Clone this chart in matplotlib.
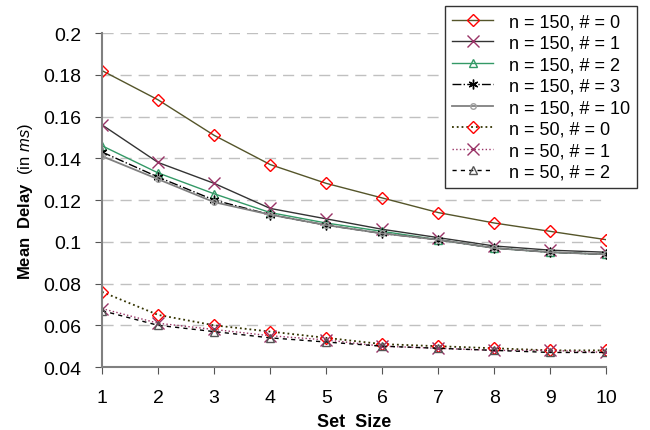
import matplotlib
matplotlib.use("Agg")
import matplotlib.pyplot as plt

plt.rcParams['font.family'] = ['Liberation Sans', 'DejaVu Sans']
plt.rcParams['mathtext.fontset'] = 'custom'
plt.rcParams['mathtext.rm'] = 'Liberation Sans'
plt.rcParams['mathtext.it'] = 'Liberation Sans:italic'
plt.rcParams['mathtext.bf'] = 'Liberation Sans:bold'

# data
set_size = [1, 2, 3, 4, 5, 6, 7, 8, 9, 10]
n150_h0 = [0.182, 0.168, 0.151, 0.137, 0.128, 0.121, 0.114, 0.109, 0.105, 0.101]
n150_h1 = [0.156, 0.138, 0.128, 0.116, 0.111, 0.106, 0.102, 0.098, 0.096, 0.095]
n150_h2 = [0.146, 0.133, 0.123, 0.114, 0.109, 0.105, 0.101, 0.097, 0.095, 0.094]
n150_h3 = [0.143, 0.131, 0.120, 0.113, 0.108, 0.104, 0.101, 0.097, 0.095, 0.094]
n150_h10 = [0.141, 0.130, 0.119, 0.113, 0.108, 0.104, 0.101, 0.097, 0.095, 0.094]
n50_h0 = [0.076, 0.065, 0.060, 0.057, 0.054, 0.051, 0.050, 0.049, 0.048, 0.048]
n50_h1 = [0.068, 0.061, 0.058, 0.055, 0.053, 0.050, 0.049, 0.048, 0.048, 0.047]
n50_h2 = [0.067, 0.060, 0.057, 0.054, 0.052, 0.050, 0.049, 0.048, 0.047, 0.047]
y_ticks = [0.04, 0.06, 0.08, 0.1, 0.12, 0.14, 0.16, 0.18, 0.2]

fig = plt.figure(figsize=(6.5, 4.31), dpi=100)
ax = fig.add_axes([0.157, 0.146, 0.776, 0.775])

red = '#ff0000'
purple = '#993366'

ax.plot(set_size, n150_h0, '-', color='#55552a', lw=1, marker='D', ms=6.5,
        mfc='none', mec=red, mew=1, label='n = 150, # = 0')
ax.plot(set_size, n150_h1, '-', color='#333333', lw=1, marker='x', ms=9,
        mec=purple, mew=1, label='n = 150, # = 1')
ax.plot(set_size, n150_h2, '-', color='#339966', lw=1, marker='^', ms=6,
        mfc='none', mec='#339966', mew=1, label='n = 150, # = 2')
ax.plot(set_size, n150_h3, '-.', color='black', lw=1, marker=(6, 2, 0), ms=7,
        mec='black', mew=1, label='n = 150, # = 3')
ax.plot(set_size, n150_h10, '-', color='#808080', lw=1.3, marker='o', ms=4,
        mfc='none', mec='#a0a0a0', mew=1, label='n = 150, # = 10')
ax.plot(set_size, n50_h0, ':', color='#333300', lw=1.3, marker='D', ms=6.5,
        mfc='none', mec=red, mew=1, label='n = 50, # = 0')
ax.plot(set_size, n50_h1, ':', color=purple, lw=1, marker='x', ms=9,
        mec=purple, mew=1, label='n = 50, # = 1')
ax.plot(set_size, n50_h2, '--', color='black', lw=1, dashes=(3, 3), marker='^', ms=6,
        mfc='none', mec='#555555', mew=1, label='n = 50, # = 2')

ax.set_xlim(1, 10)
ax.set_ylim(0.04, 0.2)
ax.set_xticks(set_size)
ax.set_yticks(y_ticks)
ax.set_yticklabels([('%g' % v) for v in y_ticks])
ax.tick_params(labelsize=14, color='#555555', length=5, direction='out')
ax.tick_params(axis='y', pad=10)
ax.tick_params(axis='x', pad=11)
ax.yaxis.grid(True, color='#c0c0c0', ls=(0, (8, 5)), lw=1)
ax.set_axisbelow(True)
ax.spines['right'].set_visible(False)
ax.spines['top'].set_visible(False)
ax.spines['left'].set_color('#808080')
ax.spines['bottom'].set_color('#808080')
ax.spines['left'].set_linewidth(1.5)
ax.spines['bottom'].set_linewidth(1.5)

ax.set_xlabel('Set  Size', fontsize=13, fontweight='bold', labelpad=5)
ax.set_ylabel(r'$\mathbf{Mean\ \ Delay}$  (in $\mathit{ms}$)', fontsize=12, labelpad=6)

leg = ax.legend(loc='upper right', bbox_to_anchor=(0.98, 0.984),
                bbox_transform=fig.transFigure, borderaxespad=0, fontsize=13,
                frameon=True, fancybox=False, framealpha=1, edgecolor='#333333',
                labelspacing=0.25, handlelength=2.3, handletextpad=0.85,
                borderpad=0.4)
leg.get_frame().set_linewidth(1)

fig.savefig('out.png', dpi=100)
